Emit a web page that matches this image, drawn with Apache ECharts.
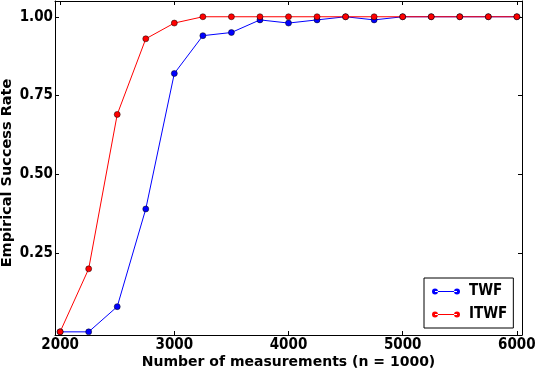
<!DOCTYPE html>
<html lang="en">
<head>
    <meta charset="UTF-8">
    <title>Success rate</title>
    <script src="https://cdn.jsdelivr.net/npm/echarts@6/dist/echarts.min.js"></script>
</head>
<body style="margin:0">
    <div id="main" style="width: 538px;height:370px;"></div>
    <script type="text/javascript">
        // measurement counts (x) and success rates for both methods
        var measurements = [2000, 2250, 2500, 2750, 3000, 3250, 3500, 3750, 4000,
            4250, 4500, 4750, 5000, 5250, 5500, 5750, 6000];
        var twf = [0, 0, 0.08, 0.39, 0.82, 0.94, 0.95, 0.99, 0.98,
            0.99, 1.0, 0.99, 1.0, 1.0, 1.0, 1.0, 1.0];
        var itwf = [0, 0.20, 0.69, 0.93, 0.98, 1.0, 1.0, 1.0, 1.0,
            1.0, 1.0, 1.0, 1.0, 1.0, 1.0, 1.0, 1.0];
        var xTicks = [2000, 3000, 4000, 5000, 6000];
        var yTicks = [0.25, 0.5, 0.75, 1.0];

        var font = 'DejaVu Sans Condensed';
        var nameFont = { fontFamily: 'DejaVu Sans', fontWeight: 'bold', fontSize: 14, color: '#000' };
        var myChart = echarts.init(document.getElementById('main'));

        function pairs(ys) {
            return measurements.map(function (x, i) { return [x, ys[i]]; });
        }

        var tick = { show: true, inside: true, length: 4, lineStyle: { color: '#000' } };
        var line = { show: true, onZero: false, lineStyle: { color: '#000', width: 1 } };
        var legendIcon = 'path://M0,5a3,3 0 1,0 6,0a3,3 0 1,0 -6,0z M22,5a3,3 0 1,0 6,0a3,3 0 1,0 -6,0z M3,4.5h22v1h-22z';

        option = {
            animation: false,
            grid: { left: 55, right: 16, top: 1, bottom: 35, outerBoundsMode: 'none', containLabel: false },
            legend: {
                orient: 'vertical',
                left: 424, top: 278,
                padding: [6, 6, 6, 8],
                itemGap: 8,
                itemWidth: 28, itemHeight: 14,
                borderColor: '#000', borderWidth: 1,
                backgroundColor: '#fff',
                icon: legendIcon,
                itemStyle: { borderWidth: 0 },
                textStyle: { fontFamily: font, fontWeight: 'bold', fontSize: 15, color: '#000', padding: [0, 0, 0, 4] },
                data: ['TWF', 'ITWF']
            },
            xAxis: [{
                type: 'value', min: 1955, max: 6045,
                name: 'Number of measurements (n = 1000)',
                nameLocation: 'middle', nameGap: 20, nameMoveOverlap: false,
                nameTextStyle: nameFont,
                axisLine: line,
                axisTick: Object.assign({ customValues: xTicks }, tick),
                axisLabel: {
                    customValues: xTicks, margin: 3,
                    fontFamily: font, fontWeight: 'bold', fontSize: 15, color: '#000',
                    formatter: function (v) { return String(v); }
                },
                splitLine: { show: false }
            }, {
                type: 'value', min: 1955, max: 6045, position: 'top',
                axisLine: line,
                axisTick: Object.assign({ customValues: xTicks }, tick),
                axisLabel: { show: false },
                splitLine: { show: false }
            }],
            yAxis: [{
                type: 'value', min: -0.01, max: 1.05,
                name: 'Empirical Success Rate',
                nameLocation: 'middle', nameGap: 40, nameMoveOverlap: false,
                nameTextStyle: Object.assign({}, nameFont, { fontSize: 14.5, padding: [0, 10, 0, 0] }),
                axisLine: line,
                axisTick: Object.assign({ customValues: yTicks }, tick),
                axisLabel: {
                    customValues: yTicks, margin: 2,
                    fontFamily: font, fontWeight: 'bold', fontSize: 15, color: '#000',
                    formatter: function (v) { return v.toFixed(2); }
                },
                splitLine: { show: false }
            }, {
                type: 'value', min: -0.01, max: 1.05, position: 'right',
                axisLine: line,
                axisTick: Object.assign({ customValues: yTicks }, tick),
                axisLabel: { show: false },
                splitLine: { show: false }
            }],
            series: [{
                name: 'TWF', type: 'line',
                data: pairs(twf),
                symbol: 'circle', symbolSize: 6,
                lineStyle: { color: '#0000ff', width: 1 },
                itemStyle: { color: '#0000ff', borderColor: '#000', borderWidth: 0.5 }
            }, {
                name: 'ITWF', type: 'line',
                data: pairs(itwf),
                symbol: 'circle', symbolSize: 6,
                lineStyle: { color: '#ff0000', width: 1 },
                itemStyle: { color: '#ff0000', borderColor: '#000', borderWidth: 0.5 }
            }]
        };

        myChart.setOption(option);
    </script>
</body>
</html>
